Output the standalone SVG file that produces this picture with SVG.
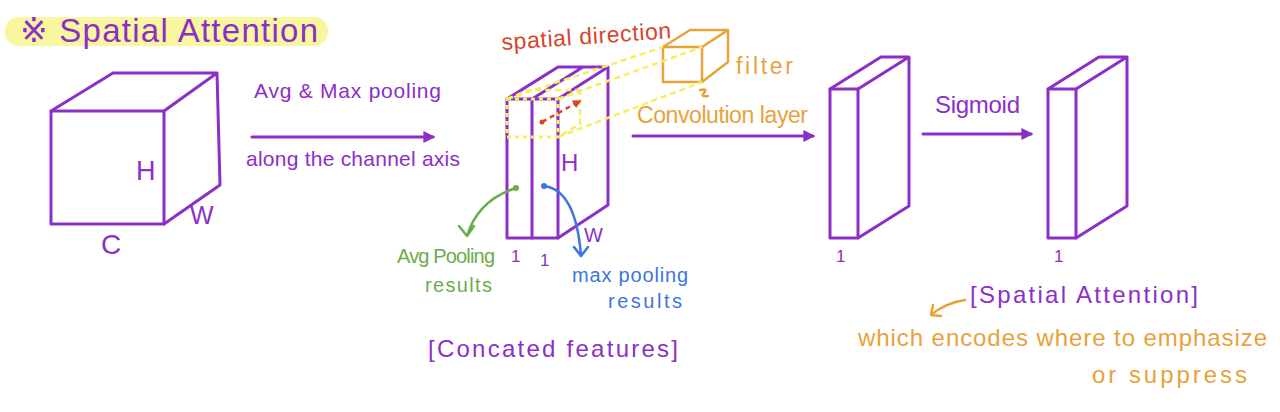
<svg xmlns="http://www.w3.org/2000/svg" width="1280" height="412" viewBox="0 0 1280 412">
<defs>
<style>
.p{fill:none;stroke:#8c2fc6;stroke-width:3;stroke-linejoin:round;stroke-linecap:round}
.t{font-family:"Liberation Sans","DejaVu Sans",sans-serif}
.pt{fill:#8c2fc6}
.ot{fill:#e9a23b}
.yd{fill:none;stroke:#f6ee5c;stroke-width:2.5;stroke-dasharray:6 4}
.or{fill:none;stroke:#e9a23b;stroke-width:2.5;stroke-linejoin:round;stroke-linecap:round}
</style>
<marker id="ah" viewBox="0 0 10 10" refX="8" refY="5" markerWidth="4" markerHeight="4" orient="auto"><path d="M0,0 L10,5 L0,10 z" fill="#8c2fc6"/></marker>
<marker id="ahr" viewBox="0 0 10 10" refX="8" refY="5" markerWidth="3.5" markerHeight="3.5" orient="auto"><path d="M0,0 L10,5 L0,10 z" fill="#d8442c"/></marker>
</defs>
<rect width="1280" height="412" fill="#ffffff"/>

<g id="title">
<rect x="5" y="17" width="323" height="29" rx="14" fill="#f9f6a0"/>
<text class="t pt" x="20" y="42" font-size="33" textLength="298" lengthAdjust="spacing">※ Spatial Attention</text>
</g>

<g id="input-cube">
<rect class="p" x="51" y="111" width="113" height="113"/>
<path class="p" d="M51,111 L113,73 L217,73 L164,111 M217,73 L220,185 L164,224"/>
<text class="t pt" x="136" y="180" font-size="27">H</text>
<text class="t pt" x="190" y="224" font-size="25">W</text>
<text class="t pt" x="101" y="254" font-size="28">C</text>
</g>

<g id="pooling-label">
<text class="t pt" x="254" y="98" font-size="21" textLength="187" lengthAdjust="spacing">Avg &amp; Max pooling</text>
<text class="t pt" x="246" y="166" font-size="21" textLength="214" lengthAdjust="spacing">along the channel axis</text>
</g>

<g id="concat-block">
<rect class="p" x="507" y="99" width="51" height="139"/>
<path class="p" d="M532,99 L532,238 M507,99 L558,67 L608,67 L558,99 M532,99 L583,67 M608,67 L608,205 L558,238"/>
<rect x="507" y="99" width="51" height="38" fill="none" stroke="#f6ee5c" stroke-width="3" stroke-dasharray="4 4"/>
<path class="yd" d="M558,99 L580,92 L580,124 L558,137 M507,99 L529,90 L580,90"/>
<path d="M542,122 L580,101" fill="none" stroke="#d8442c" stroke-width="2.5" stroke-dasharray="5 4" marker-end="url(#ahr)"/>
<circle cx="542" cy="122" r="2.5" fill="#d8442c"/>
<text class="t pt" x="561" y="171" font-size="24">H</text>
<text class="t pt" x="584" y="242" font-size="20">W</text>
<text class="t pt" x="511" y="262" font-size="17">1</text>
<text class="t pt" x="540" y="266" font-size="17">1</text>
<text class="t pt" x="428" y="357" font-size="24" textLength="250" lengthAdjust="spacing">[Concated features]</text>
</g>

<g id="filter">
<path class="or" d="M663,47 L702,47 L702,82 L663,82 Z M663,47 L690,30 L728,30 L702,47 M728,30 L728,62 L702,82"/>
<path class="or" d="M700,90 Q708,88 704,93 Q700,97 708,96" stroke-width="2"/>
<text class="t ot" x="736" y="74" font-size="23" textLength="57" lengthAdjust="spacing">filter</text>
<text class="t" x="502" y="50" font-size="23" fill="#d8442c" textLength="170" lengthAdjust="spacing" transform="rotate(-4 502 50)">spatial direction</text>
<text class="t ot" x="637" y="123" font-size="23" textLength="171" lengthAdjust="spacing">Convolution layer</text>
</g>

<g id="conv-output">
<rect class="p" x="830" y="89" width="28" height="149"/>
<path class="p" d="M830,89 L881,57 L909,57 L858,89 M909,57 L909,206 L858,238"/>
<text class="t pt" x="836" y="262" font-size="17">1</text>
<text class="t pt" x="935" y="113" font-size="24" textLength="85" lengthAdjust="spacing">Sigmoid</text>
</g>

<g id="attention-output">
<rect class="p" x="1048" y="89" width="28" height="149"/>
<path class="p" d="M1048,89 L1099,57 L1127,57 L1076,89 M1127,57 L1127,206 L1076,238"/>
<text class="t pt" x="1054" y="262" font-size="17">1</text>
<text class="t pt" x="970" y="303" font-size="24" textLength="228" lengthAdjust="spacing">[Spatial Attention]</text>
<text class="t ot" x="858" y="346" font-size="24" textLength="409" lengthAdjust="spacing">which encodes where to emphasize</text>
<text class="t ot" x="1092" y="383" font-size="24" textLength="155" lengthAdjust="spacing">or suppress</text>
</g>

<g id="pool-labels">
<text class="t" x="397" y="263" font-size="20" fill="#6aad4b" textLength="98" lengthAdjust="spacing">Avg Pooling</text>
<text class="t" x="425" y="292" font-size="20" fill="#6aad4b" textLength="67" lengthAdjust="spacing">results</text>
<text class="t" x="572" y="282" font-size="20" fill="#3c75dd" textLength="116" lengthAdjust="spacing">max pooling</text>
<text class="t" x="608" y="308" font-size="20" fill="#3c75dd" textLength="74" lengthAdjust="spacing">results</text>
</g>

<g id="connectors">
<path class="yd" d="M507,99 L663,47 M558,99 L702,47 M558,137 L702,82"/>
<path class="p" d="M252,137 L433,137" marker-end="url(#ah)"/>
<path class="p" d="M633,136 L813,136" marker-end="url(#ah)"/>
<path class="p" d="M923,134 L1031,134" marker-end="url(#ah)"/>
<circle cx="516" cy="188" r="3" fill="#6aad4b"/>
<path d="M516,188 Q478,200 467,236 M459,226 L467,236 L474,226" fill="none" stroke="#6aad4b" stroke-width="2.5" stroke-linecap="round" stroke-linejoin="round"/>
<circle cx="544" cy="186" r="3" fill="#3c75dd"/>
<path d="M544,186 Q576,190 581,256 M574,247 L581,256 L588,247" fill="none" stroke="#3c75dd" stroke-width="2.5" stroke-linecap="round" stroke-linejoin="round"/>
<path d="M965,300 Q945,303 931,315 M933,305 L931,315 L941,316" fill="none" stroke="#e9a23b" stroke-width="2.5" stroke-linecap="round" stroke-linejoin="round"/>
</g>
</svg>
